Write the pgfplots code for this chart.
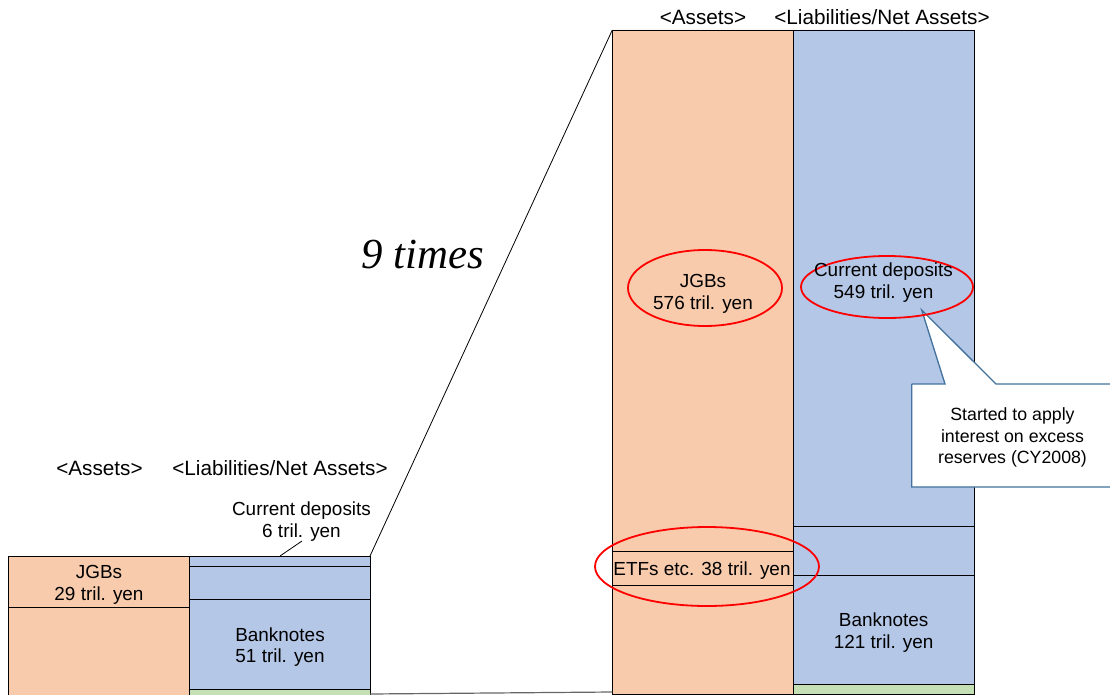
\documentclass[border=0pt]{standalone}
\usepackage{fontspec}
\setmainfont{Liberation Sans}
\newfontfamily\timesfont{Liberation Serif}
\usepackage{pgfplots}
\pgfplotsset{compat=1.18}
\definecolor{peach}{RGB}{248,203,173}
\definecolor{lblue}{RGB}{180,199,231}
\definecolor{lgreen}{RGB}{197,224,180}
\definecolor{callblue}{RGB}{65,113,156}
\begin{document}
\begin{tikzpicture}
\begin{axis}[name=ax,
  scale only axis, width=1110bp, height=695bp,
  xmin=0, xmax=1110, ymin=0, ymax=695, y dir=reverse,
  hide axis, clip=true]
% ---- small balance sheet (before) ----
\addplot[fill=peach, draw=black, line width=0.8bp] coordinates {(8.3,556) (189,556) (189,607) (8.3,607) (8.3,556)};
\addplot[fill=peach, draw=black, line width=0.8bp] coordinates {(8.3,607) (189,607) (189,702) (8.3,702) (8.3,607)};
\addplot[fill=lblue, draw=black, line width=0.8bp] coordinates {(189,556) (370,556) (370,566.7) (189,566.7) (189,556)};
\addplot[fill=lblue, draw=black, line width=0.8bp] coordinates {(189,566.7) (370,566.7) (370,599) (189,599) (189,566.7)};
\addplot[fill=lblue, draw=black, line width=0.8bp] coordinates {(189,599) (370,599) (370,689.3) (189,689.3) (189,599)};
\addplot[fill=lgreen, draw=black, line width=0.8bp] coordinates {(189,689.3) (370,689.3) (370,702) (189,702) (189,689.3)};
% ---- large balance sheet (after) ----
\addplot[fill=peach, draw=black, line width=0.8bp] coordinates {(612.3,30) (793.3,30) (793.3,551.7) (612.3,551.7) (612.3,30)};
\addplot[fill=peach, draw=black, line width=0.8bp] coordinates {(612.3,551.7) (793.3,551.7) (793.3,585.3) (612.3,585.3) (612.3,551.7)};
\addplot[fill=peach, draw=black, line width=0.8bp] coordinates {(612.3,585.3) (793.3,585.3) (793.3,694) (612.3,694) (612.3,585.3)};
\addplot[fill=lblue, draw=black, line width=0.8bp] coordinates {(793.3,30) (974.5,30) (974.5,526.7) (793.3,526.7) (793.3,30)};
\addplot[fill=lblue, draw=black, line width=0.8bp] coordinates {(793.3,526.7) (974.5,526.7) (974.5,575.3) (793.3,575.3) (793.3,526.7)};
\addplot[fill=lblue, draw=black, line width=0.8bp] coordinates {(793.3,575.3) (974.5,575.3) (974.5,684.3) (793.3,684.3) (793.3,575.3)};
\addplot[fill=lgreen, draw=black, line width=0.8bp] coordinates {(793.3,684.3) (974.5,684.3) (974.5,694) (793.3,694) (793.3,684.3)};
% ---- connecting lines ----
\addplot[black, line width=0.8bp] coordinates {(370,556) (612.3,30)};
\addplot[black!60, line width=1.2bp] coordinates {(370,694) (612.3,692)};
\addplot[black, line width=0.8bp] coordinates {(302,541) (280,556)};
% ---- callout ----
\addplot[fill=white, draw=callblue, line width=1.3bp] coordinates {(911.7,384) (945,384) (921.7,310) (996,384) (1115,384) (1115,487) (911.7,487) (911.7,384)};
% ---- ellipses ----
\draw[red, line width=1.8bp] (axis cs:705,288) ellipse [x radius=77bp, y radius=38bp];
\draw[red, line width=1.8bp] (axis cs:887,287) ellipse [x radius=86bp, y radius=31bp];
\draw[red, line width=1.8bp] (axis cs:707,566.5) ellipse [x radius=112bp, y radius=39.5bp];
% ---- texts ----
\begin{scope}[every node/.style={align=center, inner sep=0pt, font=\fontsize{19}{21.5}\selectfont}]
\node[font=\fontsize{20.8}{24}\selectfont] at (axis cs:99.5,468) {<Assets>};
\node[font=\fontsize{20.8}{24}\selectfont] at (axis cs:280,468) {<Liabilities/Net Assets>};
\node[font=\fontsize{20.8}{24}\selectfont] at (axis cs:703,17) {<Assets>};
\node[font=\fontsize{20.8}{24}\selectfont] at (axis cs:882,17) {<Liabilities/Net Assets>};
\node at (axis cs:301.5,521.5) {Current deposits\\6 tril. yen};
\node at (axis cs:99,585) {JGBs\\29 tril. yen};
\node at (axis cs:280,647) {Banknotes\\51 tril. yen};
\node at (axis cs:703,294) {JGBs\\576 tril. yen};
\node at (axis cs:883.5,282.5) {Current deposits\\549 tril. yen};
\node at (axis cs:702,570.5) {ETFs etc. 38 tril. yen};
\node at (axis cs:883.7,632.5) {Banknotes\\121 tril. yen};
\node[font=\fontsize{17.8}{21.7}\selectfont] at (axis cs:1012.5,437.5) {Started to apply\\interest on excess\\reserves (CY2008)};
\node[font=\timesfont\itshape\fontsize{43}{50}\selectfont, anchor=base] at (axis cs:422.5,268) {9 times};
\end{scope}
\end{axis}
\pgfresetboundingbox
\path (ax.south west) rectangle (ax.north east);
\end{tikzpicture}
\end{document}
